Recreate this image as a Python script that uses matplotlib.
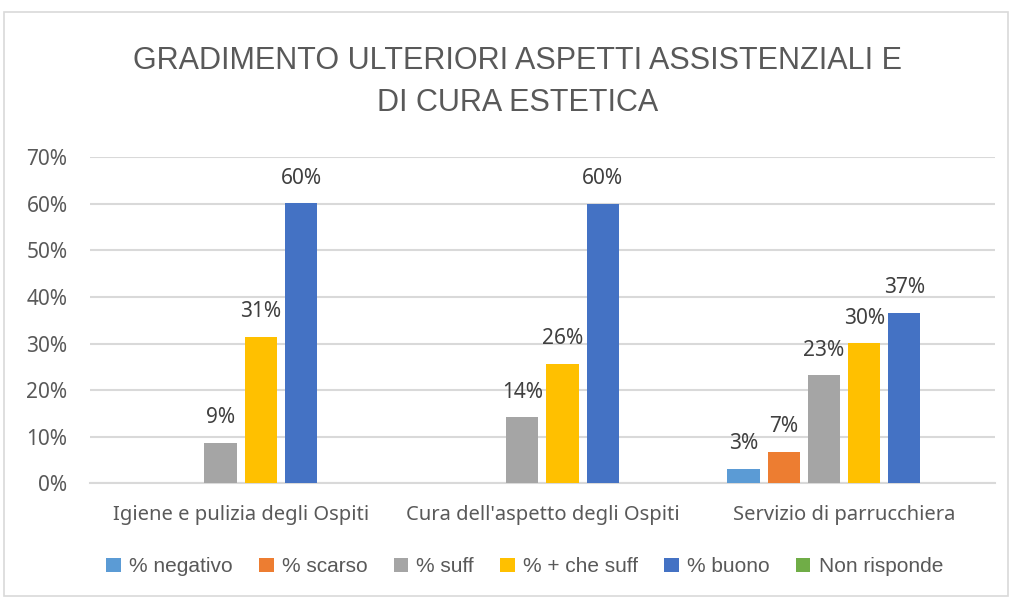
import numpy as np
import matplotlib
matplotlib.use("Agg")
import matplotlib.pyplot as plt
from matplotlib.patches import Rectangle

# data
categories = ["Igiene e pulizia degli Ospiti", "Cura dell'aspetto degli Ospiti", "Servizio di parrucchiera"]
series_names = ["% negativo", "% scarso", "% suff", "% + che suff", "% buono", "Non risponde"]
negativo = [0.0, 0.0, 0.031]
scarso = [0.0, 0.0, 0.067]
suff = [0.087, 0.142, 0.232]
piu_che_suff = [0.314, 0.257, 0.301]
buono = [0.601, 0.600, 0.366]
non_risponde = [0.0, 0.0, 0.0]
colors = ["#5b9bd5", "#ed7d31", "#a5a5a5", "#ffc000", "#4472c4", "#70ad47"]
yticks = [0, 0.1, 0.2, 0.3, 0.4, 0.5, 0.6, 0.7]

all_series = [negativo, scarso, suff, piu_che_suff, buono, non_risponde]

txt_col = "#595959"
narrow = ["Liberation Sans Narrow", "Liberation Sans", "DejaVu Sans"]
body = ["Noto Sans", "DejaVu Sans"]

fig = plt.figure(figsize=(10.09, 5.98), dpi=100)
ax = fig.add_axes([0.089, 0.192, 0.897, 0.545])

# light border round the whole chart
fig.patches.append(Rectangle((0.004, 0.003), 0.995, 0.977, transform=fig.transFigure,
                             fill=False, edgecolor="#d9d9d9", linewidth=1.2))

x = np.arange(len(categories))
slot = 0.8 / 6
for i, vals in enumerate(all_series):
    pos = x + (i - 2.5) * slot
    bars = ax.bar(pos, vals, width=slot * 0.8, color=colors[i], label=series_names[i], zorder=3)
    for b, v in zip(bars, vals):
        if v > 0:
            ax.annotate("%d%%" % round(v * 100), (b.get_x() + b.get_width() / 2, v),
                        xytext=(0, 18), textcoords="offset points", ha="center", va="center",
                        fontsize=15, color="#404040", family=body)

ax.set_ylim(0, 0.7)
ax.set_xlim(-0.5, 2.5)
ax.set_yticks(yticks)
ax.set_yticklabels(["%d%%" % round(t * 100) for t in yticks], family=body, fontsize=15, color=txt_col)
ax.set_xticks(x)
ax.set_xticklabels(categories, family=body, fontsize=14.5, color=txt_col)
ax.tick_params(axis="x", length=0, pad=16)
ax.tick_params(axis="y", length=0, pad=16)
ax.grid(axis="y", color="#d9d9d9", linewidth=1.5, zorder=0)
for s in ["top", "right", "left"]:
    ax.spines[s].set_visible(False)
ax.spines["bottom"].set_color("#d9d9d9")
ax.spines["bottom"].set_linewidth(1.5)

fig.text(0.513, 0.863, "GRADIMENTO ULTERIORI ASPETTI ASSISTENZIALI E\nDI CURA ESTETICA",
         ha="center", va="center", fontsize=22, color=txt_col, family=narrow, linespacing=1.55)

leg = fig.legend(loc="center", bbox_to_anchor=(0.52, 0.052), ncol=6, frameon=False,
                 handlelength=0.7, handleheight=0.7, handletextpad=0.4, columnspacing=1.25,
                 prop={"family": narrow, "size": 15})
for t in leg.get_texts():
    t.set_color(txt_col)

fig.savefig("out.png", dpi=100)
